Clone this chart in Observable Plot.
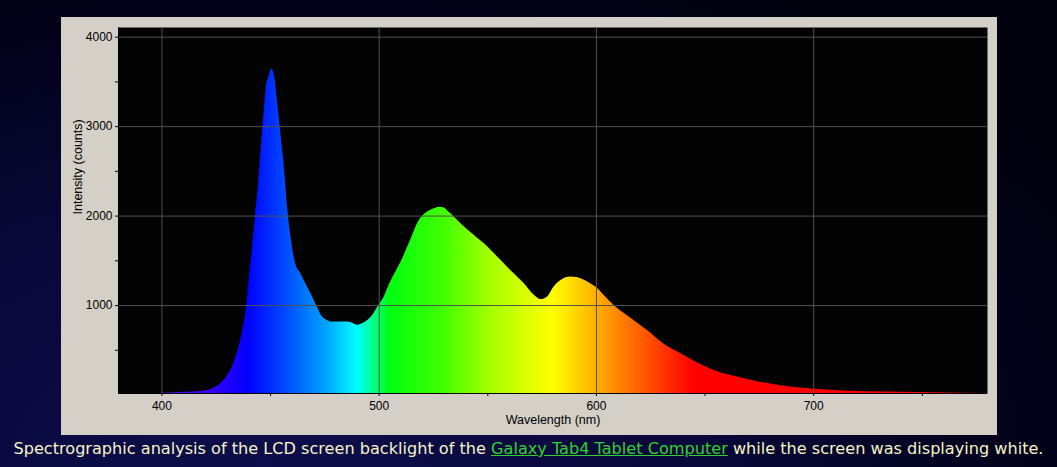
<!DOCTYPE html>
<html><head><meta charset="utf-8">
<script src="https://cdn.jsdelivr.net/npm/d3@7"></script>
<script src="https://cdn.jsdelivr.net/npm/@observablehq/plot@0.6"></script>
<style>
html,body{margin:0;padding:0;width:1057px;height:467px;overflow:hidden;}
body{background: radial-gradient(ellipse 90% 120% at 25% 100%, #0e0e4c 0%, #08083a 45%, #02021a 80%, #01010e 100%);}
#panel{position:absolute;left:61px;top:17px;width:936px;height:418px;}
#caption{position:absolute;left:0;top:439px;width:1057px;text-align:center;font-family:"DejaVu Sans",Verdana,sans-serif;font-size:15px;color:#f4f4c6;white-space:nowrap;}
#caption a{color:#2fd22f;text-decoration:underline;}
</style></head>
<body>
<div id="panel"></div>
<div id="caption"><span id="capspan">Spectrographic analysis of the LCD screen backlight of the <a href="#">Galaxy Tab4 Tablet Computer</a> while the screen was displaying white.</span></div>
<script>
// Spectrum samples (wavelength nm, intensity counts)
const wavelengths = [380,395,400,405,410,415,420,424,427,430,432.5,435,437,439,440,441.5,443,444.5,446,447,448,449.3,450.5,451.2,452,453,454.4,456.3,458,459.6,461.5,463.8,466.9,469.2,471.5,473.8,476,478,481,485,488,490,493,497,500,502,505,508,510,512,515,518,520,522,525,528,530,532,535,537.6,543.7,550,556,562,566.7,571.4,574.4,577.5,580.5,585,588,591,596,600.5,604,608,616,623.5,631,639,648,656,663.5,671,679,686.5,694,702,710,717,733,748,763,780];
const counts = [10,12,20,25,30,35,45,75,125,210,320,500,690,1000,1250,1600,1990,2360,2850,3150,3430,3560,3640,3620,3540,3320,3000,2550,2050,1730,1470,1360,1210,1100,980,875,835,815,815,815,800,780,805,890,1010,1080,1250,1390,1480,1590,1760,1930,2000,2040,2080,2100,2090,2045,1980,1915,1785,1655,1506,1357,1246,1115,1067,1096,1208,1300,1320,1313,1264,1190,1100,1003,855,720,570,460,340,258,210,165,128,98,79,61,50,42,35,28,23,18];

const xTicks = [400,450,500,550,600,650,700,750];
const xLabels = [400,500,600,700];
const yTicks = [500,1000,1500,2000,2500,3000,3500,4000];
const yLabels = [1000,2000,3000,4000];

// Spectral fill colour stops (wavelength -> colour)
const colorStops = [380,400,420,440,460,475,490,505,530,550,580,600,620,645,780];
const colorValues = ["#6a00ff","#6000ff","#4000ff","#0000ff","#0058ff","#00a0ff","#00ffff","#00ff10","#40ff00","#a0ff00","#ffff00","#ffb000","#ff6000","#ff0000","#ff0000"];

const data = wavelengths.map((w, i) => ({w, c: counts[i]}));
const yMin = 17;

const plot = Plot.plot({
  width: 936, height: 418,
  marginLeft: 57, marginTop: 10, marginRight: 10, marginBottom: 42,
  style: {background: "#d4d0c8", fontFamily: "'Liberation Sans', Arial, sans-serif", fontSize: "12px", color: "black", overflow: "visible"},
  x: {domain: [380, 780]},
  y: {domain: [yMin, 4108]},
  marks: [
    Plot.frame({fill: "#030303", stroke: null}),
    Plot.areaY(data, {x: "w", y1: yMin, y2: "c", fill: "url(#spec)", curve: "monotone-x"}),
    Plot.gridX(xLabels, {stroke: "#505050", strokeOpacity: 1}),
    Plot.gridY(yLabels, {stroke: "#505050", strokeOpacity: 1}),
    Plot.axisX({ticks: xTicks, tickFormat: d => xLabels.includes(d) ? String(d) : "", tickSize: 3, tickPadding: 5, label: null}),
    Plot.axisY({ticks: yTicks, tickFormat: d => yLabels.includes(d) ? String(d) : "", tickSize: 3, tickPadding: 3, label: null}),
    Plot.ruleY([yMin], {stroke: "black"}),
    Plot.ruleX([380], {stroke: "black"}),
    Plot.text(["Wavelength (nm)"], {frameAnchor: "bottom", dy: 30, fill: "black", fontSize: 12.5}),
    Plot.text(["Intensity (counts)"], {frameAnchor: "left", rotate: -90, dx: -41, dy: 4, fill: "black", fontSize: 12.5})
  ]
});

// Gradient positioned with the plot's own x scale
const xs = plot.scale("x");
const ns = "http://www.w3.org/2000/svg";
const defs = document.createElementNS(ns, "defs");
const lg = document.createElementNS(ns, "linearGradient");
lg.setAttribute("id", "spec");
lg.setAttribute("gradientUnits", "userSpaceOnUse");
const gx1 = xs.apply(380), gx2 = xs.apply(780);
lg.setAttribute("x1", gx1); lg.setAttribute("x2", gx2);
lg.setAttribute("y1", 0); lg.setAttribute("y2", 0);
colorStops.forEach((w, i) => {
  const s = document.createElementNS(ns, "stop");
  s.setAttribute("offset", (xs.apply(w) - gx1) / (gx2 - gx1));
  s.setAttribute("stop-color", colorValues[i]);
  lg.appendChild(s);
});
defs.appendChild(lg);
plot.insertBefore(defs, plot.firstChild);
document.getElementById("panel").appendChild(plot);

// fit caption to the reference width
const cap = document.getElementById("capspan");
const target = 1030;
const w0 = cap.getBoundingClientRect().width;
document.getElementById("caption").style.fontSize = (15 * target / w0).toFixed(2) + "px";
</script>
</body></html>
